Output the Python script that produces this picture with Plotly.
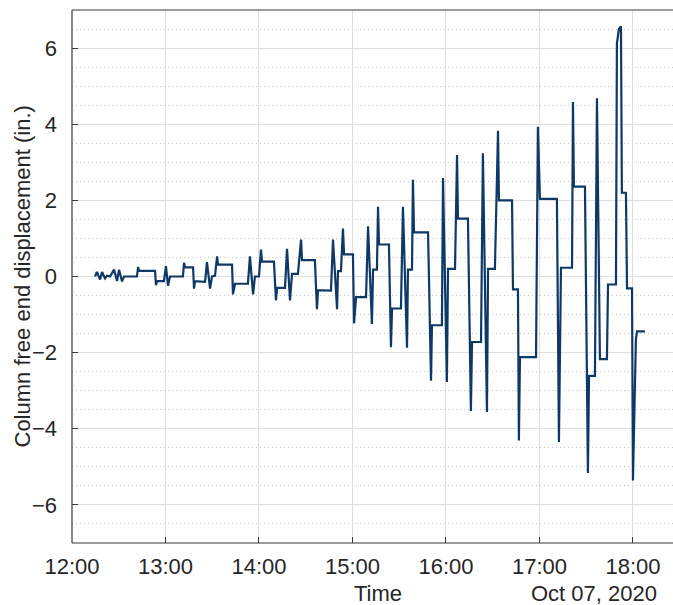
import pandas as pd
import plotly.graph_objects as go

# Data: elapsed minutes after 12:00 on Oct 07, 2020, and displacement (in.)
minutes_after_noon = [
    14.8, 16.0, 18.0, 19.3, 21.2, 22.5, 24.4, 27.0, 28.9, 30.2, 32.1, 33.4,
    41.7, 42.4, 43.0, 53.3, 53.9, 54.6, 59.0, 60.3, 61.6, 62.9,
    71.2, 71.9, 72.5, 77.7, 78.3, 78.9, 85.4, 86.6, 88.6, 89.8, 91.8,
    93.1, 93.7, 102.7, 103.3, 104.6, 112.9, 114.2, 116.2, 117.4, 120.0,
    121.3, 121.9, 129.6, 130.9, 131.6, 136.7, 138.0, 139.9, 141.2, 145.0,
    147.0, 147.6, 155.9, 157.2, 157.9, 166.2, 167.5, 170.1, 170.7, 172.6,
    173.9, 174.6, 180.3, 181.0, 182.3, 188.7, 190.0, 192.5, 193.2, 195.7,
    196.4, 197.0, 203.4, 204.7, 205.4, 211.1, 212.4, 215.0, 215.6, 218.2,
    218.8, 219.5, 228.5, 230.4, 231.0, 237.4, 238.1, 240.6, 241.3, 245.8,
    247.1, 247.7, 254.1, 256.0, 256.7, 262.5, 263.7, 266.3, 267.0, 271.4,
    273.4, 274.0, 282.4, 283.0, 286.2, 286.8, 287.5, 297.8, 299.0, 300.3,
    311.2, 312.5, 313.8, 320.9, 321.5, 322.1, 329.2, 331.1, 331.8, 335.6,
    336.9, 338.8, 343.3, 344.0, 349.1, 349.7, 351.0, 352.3, 352.9, 355.5,
    356.2, 359.4, 360.0, 361.9, 362.6, 367.7,
]
displacement_in = [
    0.0, 0.12, -0.08, 0.12, -0.05, 0.02, 0.0, 0.18, -0.12, 0.18, -0.13, 0.0,
    0.0, 0.25, 0.15, 0.15, -0.23, -0.12, -0.12, 0.27, -0.24, 0.0,
    0.0, 0.36, 0.24, 0.24, -0.32, -0.12, -0.14, 0.38, -0.32, 0.0, 0.02,
    0.53, 0.31, 0.31, -0.47, -0.19, -0.19, 0.53, -0.47, 0.0, 0.0,
    0.71, 0.39, 0.39, -0.63, -0.30, -0.30, 0.73, -0.63, 0.07, 0.07,
    0.97, 0.43, 0.43, -0.86, -0.36, -0.37, 0.97, -0.86, 0.14, 0.14,
    1.26, 0.58, 0.58, -1.23, -0.54, -0.54, 1.32, -1.25, 0.18, 0.18,
    1.83, 0.84, 0.84, -1.86, -0.84, -0.84, 1.83, -1.87, 0.18, 0.18,
    2.54, 1.16, 1.16, -2.74, -1.28, -1.28, 2.59, -2.77, 0.20, 0.20,
    3.19, 1.52, 1.52, -3.53, -1.72, -1.72, 3.24, -3.56, 0.20, 0.20,
    3.83, 2.00, 2.00, -0.34, -0.34, -4.31, -2.12, -2.12, 3.93, 2.04,
    2.04, -4.35, 0.23, 0.23, 4.58, 2.36, 2.36, -5.16, -2.61, -2.61,
    4.68, -2.17, -2.17, -0.21, -0.21, 6.12, 6.50, 6.57, 2.20, 2.20,
    -0.31, -0.31, -5.36, -1.65, -1.44, -1.44,
]
x_tick_labels = ["12:00", "13:00", "14:00", "15:00", "16:00", "17:00", "18:00"]
y_tick_values = [-6, -4, -2, 0, 2, 4, 6]
y_range = [-7, 7]
date_label = "Oct 07, 2020"

base = pd.Timestamp("2020-10-07 12:00:00")
x_end = base + pd.Timedelta(minutes=385.7)
times = [base + pd.Timedelta(minutes=m) for m in minutes_after_noon]
tick_times = [pd.Timestamp("2020-10-07 " + t) for t in x_tick_labels]

FONT = "Liberation Sans, Arial, Helvetica, sans-serif"
TXT = "#262626"
AX = "#3a3a3a"

fig = go.Figure()
fig.add_trace(go.Scatter(
    x=times, y=displacement_in, mode="lines",
    line=dict(color="#0e3866", width=2.2), showlegend=False,
))

fig.update_layout(
    width=673, height=605,
    margin=dict(l=72, r=0, t=10, b=62),
    paper_bgcolor="white", plot_bgcolor="white",
    font=dict(family=FONT, size=22, color=TXT),
)
fig.update_xaxes(
    range=[base, x_end],
    tickvals=tick_times, ticktext=x_tick_labels,
    showgrid=True, gridcolor="#dedede", gridwidth=1,
    showline=False,
    ticks="inside", ticklen=6, tickcolor=AX, tickwidth=1,
    ticklabelstandoff=8, zeroline=False,
)
fig.update_yaxes(
    range=y_range, tickvals=y_tick_values,
    showgrid=True, gridcolor="#dedede", gridwidth=1,
    minor=dict(dtick=0.5, showgrid=True, gridcolor="#c4c4c4", griddash="1px,3px", gridwidth=1),
    showline=False,
    ticks="inside", ticklen=6, tickcolor=AX, tickwidth=1,
    ticklabelstandoff=14, zeroline=False,
)

# axes box (left, bottom, top)
frame = dict(color=AX, width=1.2)
fig.add_shape(type="line", xref="paper", yref="paper", x0=0, x1=0, y0=0, y1=1, line=frame)
fig.add_shape(type="line", xref="paper", yref="paper", x0=0, x1=1, y0=0, y1=0, line=frame)
fig.add_shape(type="line", xref="paper", yref="paper", x0=0, x1=1, y0=1, y1=1, line=frame)

fig.add_annotation(text="Time", xref="paper", yref="paper",
                   x=(378 - 72) / 601, y=(543 - 593) / 533,
                   xanchor="center", yanchor="middle", showarrow=False,
                   font=dict(family=FONT, size=22, color=TXT))
fig.add_annotation(text=date_label, xref="paper", yref="paper",
                   x=(659 - 72) / 601, y=(543 - 593) / 533,
                   xanchor="right", yanchor="middle", showarrow=False,
                   font=dict(family=FONT, size=22, color=TXT))
fig.add_annotation(text="Column free end displacement (in.)", xref="paper", yref="paper",
                   x=(22 - 72) / 601, y=0.5, textangle=-90,
                   xanchor="center", yanchor="middle", showarrow=False,
                   font=dict(family=FONT, size=22, color=TXT))

fig.write_html("out.html")
